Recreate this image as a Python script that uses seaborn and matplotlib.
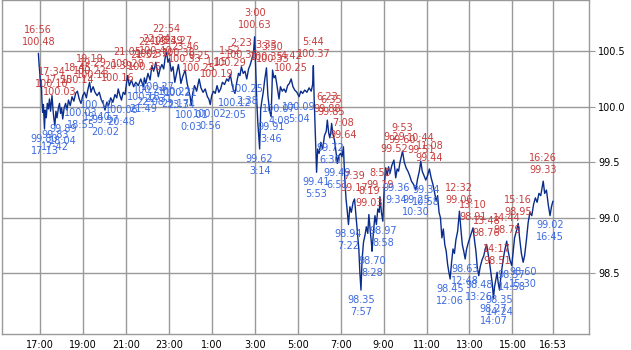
import matplotlib
matplotlib.use("Agg")
import matplotlib.pyplot as plt
import seaborn as sns
import pandas as pd

# ---------------- data ----------------
series_times = [
 "16:56","16:58","17:00","17:02","17:04","17:06","17:08","17:10","17:13","17:15","17:18","17:21","17:24","17:27","17:30",
 "17:34","17:37","17:39","17:42","17:45","17:48","17:52","17:55","17:58","18:01","18:04","18:08","18:12","18:16","18:20",
 "18:25","18:30","18:35","18:40","18:45","18:50","18:55","19:00","19:05","19:10","19:14","19:19","19:23","19:26","19:29",
 "19:34","19:40","19:46","19:52","19:57","20:02","20:07","20:12","20:18","20:24","20:30","20:35","20:39","20:44","20:48",
 "20:53","20:58","21:05","21:10","21:16","21:22","21:28","21:35","21:42","21:49","21:52","21:56","22:02","22:08","22:13",
 "22:18","22:24","22:31","22:36","22:41","22:46","22:50","22:54","22:58","23:02","23:07","23:12","23:17","23:22","23:27",
 "23:31","23:34","23:39","23:46","23:51","23:56","0:00","0:03","0:07","0:12","0:18","0:25","0:30","0:36","0:42",
 "0:48","0:52","0:56","1:00","1:05","1:10","1:15","1:20","1:25","1:30","1:36","1:42","1:47","1:52","1:57",
 "2:01","2:05","2:10","2:15","2:19","2:23","2:28","2:33","2:38","2:43","2:48","2:53","2:57","3:00","3:03",
 "3:06","3:09","3:14","3:17","3:20","3:24","3:28","3:33","3:37","3:42","3:46","3:49","3:50","3:54","3:58",
 "4:02","4:08","4:12","4:17","4:22","4:27","4:32","4:37","4:42","4:47","4:52","4:58","5:04","5:09","5:14",
 "5:20","5:26","5:32","5:38","5:42","5:44","5:46","5:49","5:53","5:56","6:00","6:05","6:10","6:15","6:20",
 "6:23","6:27","6:30","6:33","6:35","6:39","6:43","6:47","6:51","6:55","7:00","7:04","7:08","7:11","7:15",
 "7:19","7:22","7:26","7:30","7:35","7:39","7:43","7:47","7:51","7:54","7:57","8:00","8:04","8:08","8:12",
 "8:16","8:19","8:23","8:26","8:28","8:32","8:36","8:40","8:44","8:48","8:50","8:54","8:58","9:02","9:06",
 "9:10","9:14","9:18","9:23","9:29","9:34","9:38","9:42","9:46","9:53","9:58","10:03","10:08","10:13","10:18",
 "10:24","10:30","10:35","10:40","10:44","10:48","10:53","10:58","11:03","11:08","11:13","11:18","11:23","11:27","11:31",
 "11:35","11:39","11:43","11:47","11:51","11:55","11:59","12:02","12:06","12:10","12:14","12:18","12:22","12:27","12:32",
 "12:36","12:40","12:44","12:48","12:52","12:57","13:01","13:05","13:10","13:14","13:18","13:22","13:26","13:30","13:35",
 "13:40","13:44","13:48","13:52","13:56","14:00","14:04","14:07","14:10","14:14","14:17","14:20","14:24","14:28","14:33",
 "14:38","14:44","14:48","14:53","14:58","15:02","15:06","15:11","15:16","15:20","15:25","15:30","15:34","15:39","15:44",
 "15:49","15:54","15:59","16:04","16:09","16:14","16:19","16:26","16:30","16:35","16:40","16:45","16:49","16:53"]
series_values = [
 100.48,100.38,100.30,100.18,100.24,100.05,99.95,100.02,99.80,99.97,99.90,100.03,99.98,100.07,99.96,
 100.10,99.97,99.90,99.83,99.96,99.90,99.99,100.03,99.94,99.99,99.89,99.99,100.03,99.97,100.06,
 100.01,100.09,100.05,100.12,100.14,100.07,100.03,100.10,100.13,100.08,100.15,100.22,100.13,100.16,100.18,
 100.13,100.10,100.13,100.06,100.03,99.97,100.04,100.01,100.08,100.04,100.11,100.08,100.16,100.10,100.06,
 100.13,100.11,100.28,100.19,100.24,100.18,100.22,100.19,100.25,100.18,100.26,100.21,100.30,100.24,100.37,
 100.32,100.40,100.27,100.34,100.38,100.34,100.44,100.49,100.40,100.43,100.32,100.36,100.22,100.30,100.38,
 100.29,100.21,100.27,100.33,100.22,100.14,100.09,100.01,100.12,100.19,100.14,100.25,100.17,100.13,100.16,
 100.09,100.07,100.02,100.10,100.14,100.12,100.19,100.13,100.16,100.22,100.20,100.25,100.23,100.29,100.20,
 100.15,100.12,100.22,100.30,100.28,100.36,100.30,100.32,100.25,100.34,100.38,100.44,100.50,100.63,100.35,
 100.05,99.85,99.62,99.98,100.05,100.13,100.24,100.35,100.10,99.96,99.91,100.24,100.33,100.26,100.28,
 100.20,100.07,100.18,100.14,100.16,100.13,100.19,100.21,100.25,100.18,100.15,100.13,100.09,100.14,100.12,
 100.15,100.13,100.17,100.14,100.20,100.37,100.10,99.80,99.41,99.62,99.58,99.68,99.62,99.74,99.78,
 99.88,99.76,99.72,99.78,99.85,99.75,99.70,99.60,99.49,99.56,99.58,99.55,99.64,99.40,99.18,
 99.05,98.94,99.10,99.05,99.14,99.17,99.02,98.88,98.72,98.50,98.35,98.62,98.78,98.84,98.92,
 98.86,99.03,98.88,98.78,98.70,98.88,99.02,98.94,99.08,99.05,99.19,99.05,98.97,99.28,99.45,
 99.38,99.46,99.40,99.47,99.52,99.36,99.44,99.42,99.50,99.60,99.50,99.45,99.42,99.38,99.33,
 99.30,99.25,99.35,99.42,99.51,99.42,99.38,99.34,99.38,99.44,99.36,99.30,99.22,99.15,99.20,
 99.05,99.00,98.82,98.90,98.76,98.70,98.58,98.52,98.45,98.60,98.72,98.68,98.80,98.88,99.06,
 98.90,98.76,98.70,98.63,98.72,98.78,98.82,98.86,98.91,98.80,98.70,98.55,98.48,98.56,98.62,
 98.66,98.72,98.76,98.68,98.60,98.50,98.40,98.27,98.38,98.45,98.51,98.42,98.35,98.48,98.60,
 98.70,98.79,98.70,98.62,98.57,98.70,98.82,98.88,98.95,98.82,98.68,98.60,98.66,98.80,98.96,
 99.05,99.02,99.12,99.18,99.14,99.22,99.20,99.33,99.22,99.25,99.12,99.02,99.10,99.15]

high_times = ["16:56","17:34","17:55","18:45","19:19","19:29","20:39","21:05","21:52","22:13","22:24","22:54",
              "23:27","23:46","0:25","1:15","1:52","2:23","3:00","3:33","3:50","4:42","5:44","6:23","6:35",
              "7:08","7:39","8:19","8:50","9:29","9:53","10:44","11:08","12:32","13:10","13:48","14:17","14:44",
              "15:16","16:26"]
high_values = [100.48,100.10,100.03,100.14,100.22,100.18,100.16,100.28,100.26,100.37,100.40,100.49,
               100.38,100.33,100.25,100.19,100.29,100.36,100.63,100.35,100.33,100.25,100.37,99.88,99.85,
               99.64,99.17,99.03,99.19,99.52,99.60,99.51,99.44,99.06,98.91,98.76,98.51,98.79,
               98.95,99.33]
low_times = ["17:13","17:42","18:04","18:55","19:40","20:02","20:48","21:49","22:08","22:31","23:17","23:34",
             "0:03","0:56","2:05","2:38","3:14","3:46","4:08","5:04","5:53","6:30","6:51","7:22","7:57",
             "8:28","8:58","9:34","10:30","10:58","12:06","12:48","13:26","14:07","14:24","14:58","15:30","16:45"]
low_values = [99.80,99.83,99.89,100.03,100.10,99.97,100.06,100.18,100.24,100.27,100.22,100.21,
              100.01,100.02,100.12,100.25,99.62,99.91,100.07,100.09,99.41,99.72,99.49,98.94,98.35,
              98.70,98.97,99.36,99.25,99.34,98.45,98.63,98.48,98.27,98.35,98.57,98.60,99.02]

tick_labels = ["17:00","19:00","21:00","23:00","1:00","3:00","5:00","7:00","9:00","11:00","13:00","15:00","16:53"]
y_ticks = [98.5, 99.0, 99.5, 100.0, 100.5]


def to_min(s):
    h, m = map(int, s.split(":"))
    t = h * 60 + m
    if t >= 16 * 60 + 54:
        return t - 17 * 60
    return t + 24 * 60 - 17 * 60


df = pd.DataFrame({"t": [to_min(s) for s in series_times], "v": series_values})

sns.set_style("white")
plt.rcParams["font.family"] = ["DejaVu Sans"]

fig = plt.figure(figsize=(6.31, 3.5), dpi=100)
ax = fig.add_axes([1.5 / 631, (350 - 334.3) / 350, (588.7 - 1.5) / 631, 334.3 / 350 - 0.0005])

sns.lineplot(data=df, x="t", y="v", ax=ax, color="#0a2d8c", linewidth=1.0)

red = "#c83c3c"
blue = "#3c6ae0"
for t, v in zip(high_times, high_values):
    ax.annotate(f"{t}\n{v:.2f}", xy=(to_min(t), v), xytext=(0, 4.5), textcoords="offset points",
                ha="center", va="bottom", fontsize=7, color=red, linespacing=1.25)
for t, v in zip(low_times, low_values):
    ax.annotate(f"{v:.2f}\n{t}", xy=(to_min(t), v), xytext=(0, -3.5), textcoords="offset points",
                ha="center", va="top", fontsize=7, color=blue, linespacing=1.25)

tick_pos = [to_min(s) for s in tick_labels]
ax.set_xticks(tick_pos)
ax.set_xticklabels(tick_labels)
ax.set_yticks(y_ticks)
ax.set_yticklabels([f"{y:.1f}" for y in y_ticks])
ax.yaxis.tick_right()
ax.set_xlim(-107, 1533)
ax.set_ylim(97.952, 100.959)
ax.set_xlabel("")
ax.set_ylabel("")
ax.grid(True, color="#999999", linewidth=1.0)
ax.set_axisbelow(True)
for sp in ax.spines.values():
    sp.set_color("#999999")
    sp.set_linewidth(1.0)
ax.tick_params(axis="x", length=0, labelsize=7, pad=4, colors="black")
ax.tick_params(axis="y", length=4, labelsize=7, pad=3, color="#999999", labelcolor="black")

fig.savefig("out.png", dpi=100)
